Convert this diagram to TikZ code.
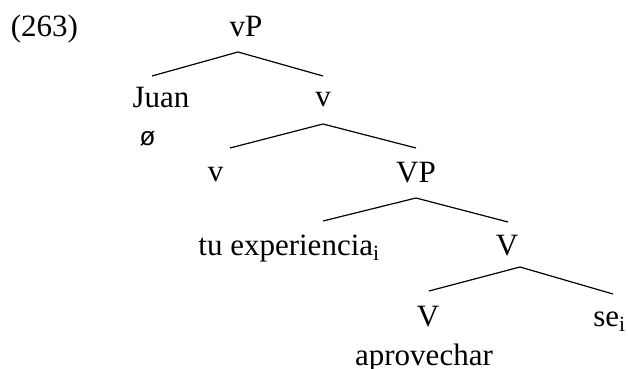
\documentclass[tikz,border=0pt]{standalone}
\usepackage{fontspec}
\setmainfont{Liberation Serif}
\newfontfamily\mysans{Liberation Sans}
\begin{document}
\begin{tikzpicture}[x=0.5pt,y=-0.5pt,
  lbl/.style={inner sep=0pt,anchor=base,font=\fontsize{15.5}{18}\selectfont},
  br/.style={line width=0.6pt}]
\useasboundingbox (0,0) rectangle (628,369);
\node[lbl] (ex) at (44.5,37) {(263)};
\node[lbl] (vP) at (246,37) {vP};
\node[lbl] (juan) at (161,108) {Juan};
\node[lbl,font=\mysans\fontsize{13}{15}\selectfont] (null) at (147.5,146) {ø};
\node[lbl] (vbar) at (323,107) {v};
\node[lbl] (v) at (215.5,182) {v};
\node[lbl] (VP) at (416,183) {VP};
\node[lbl,anchor=base west] (tu) at (198,256) {tu experiencia\textsubscript{i}};
\node[lbl] (Vbar) at (507,256) {V};
\node[lbl] (V) at (428,327) {V};
\node[lbl,anchor=base west] (se) at (593,327) {se\textsubscript{i}};
\node[lbl] (aprov) at (424,366) {aprovechar};
% branch points
\coordinate (a1) at (238,52); \coordinate (a1l) at (152,76); \coordinate (a1r) at (323,76);
\coordinate (a2) at (323,124); \coordinate (a2l) at (230,148); \coordinate (a2r) at (416,148);
\coordinate (a3) at (416,198); \coordinate (a3l) at (323,221); \coordinate (a3r) at (508,222);
\coordinate (a4) at (520,267); \coordinate (a4l) at (429,291); \coordinate (a4r) at (613,294);
\draw[br] (a1l) -- (a1) -- (a1r);
\draw[br] (a2l) -- (a2) -- (a2r);
\draw[br] (a3l) -- (a3) -- (a3r);
\draw[br] (a4l) -- (a4) -- (a4r);
\end{tikzpicture}
\end{document}
